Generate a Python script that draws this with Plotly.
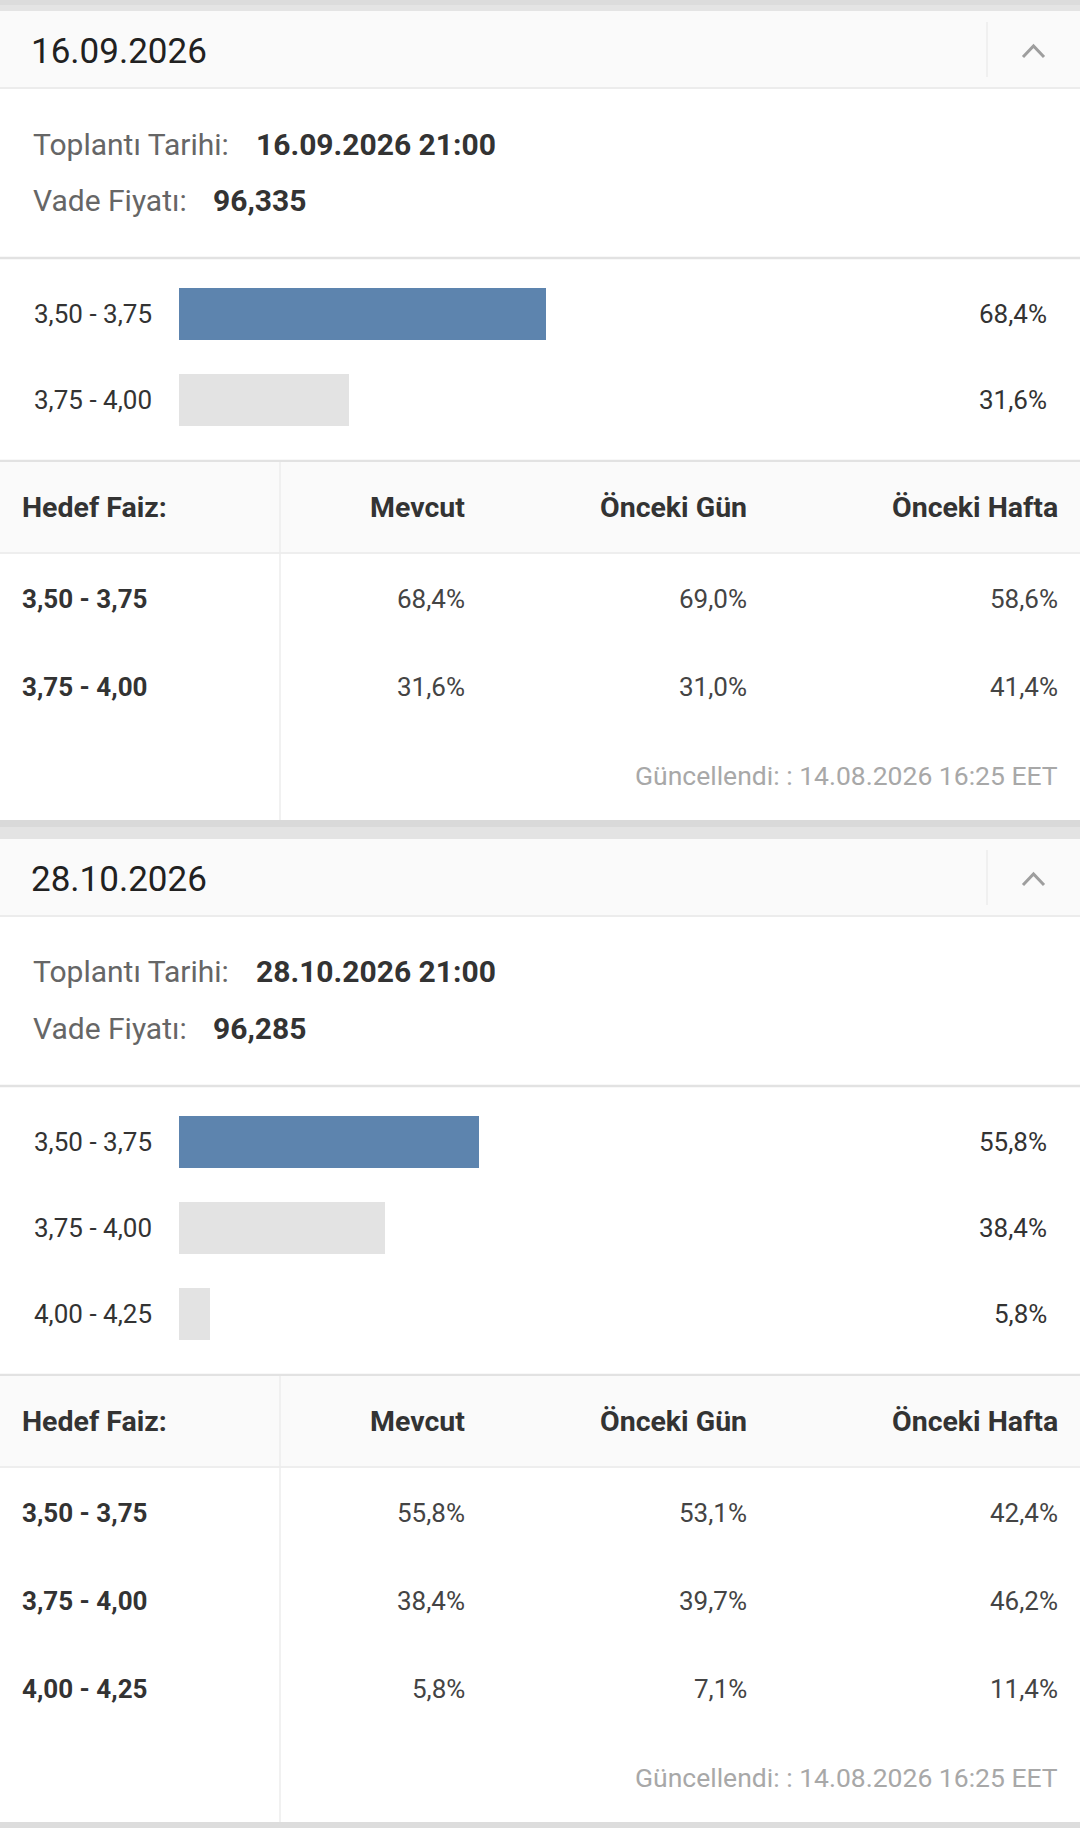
import plotly.graph_objects as go

# --- Data ---
meeting_dates = ["16.09.2026", "28.10.2026"]
meeting_times = ["16.09.2026 21:00", "28.10.2026 21:00"]
futures_prices = ["96,335", "96,285"]

ranges_1 = ["3,50 - 3,75", "3,75 - 4,00"]
current_1 = [68.4, 31.6]
prev_day_1 = [69.0, 31.0]
prev_week_1 = [58.6, 41.4]

ranges_2 = ["3,50 - 3,75", "3,75 - 4,00", "4,00 - 4,25"]
current_2 = [55.8, 38.4, 5.8]
prev_day_2 = [53.1, 39.7, 7.1]
prev_week_2 = [42.4, 46.2, 11.4]

table_columns = ["Hedef Faiz:", "Mevcut", "Önceki Gün", "Önceki Hafta"]
updated_text = "Güncellendi: : 14.08.2026 16:25 EET"

# --- Page geometry (pixels) ---
W, H = 1080, 1828
FONT = "Roboto"
BLUE = "#5d84ae"
GREY_BAR = "#e3e3e3"
LINE = "#e2e2e2"
BAR_X0, BAR_FULL = 179, 537
ROW_STEP = 86
TABLE_STEP = 88


def px(x):
    return x / W


def py(y):
    return 1 - y / H


def pct(v):
    return f"{v:.1f}%".replace(".", ",")


fig = go.Figure()
shapes = []
annotations = []


def rect(x0, y0, x1, y1, color):
    shapes.append(dict(type="rect", xref="paper", yref="paper", layer="below",
                       x0=px(x0), x1=px(x1), y0=py(y1), y1=py(y0),
                       fillcolor=color, line=dict(width=0)))


def hline(y, color=LINE, width=2):
    shapes.append(dict(type="line", xref="paper", yref="paper", layer="below",
                       x0=0, x1=1, y0=py(y), y1=py(y),
                       line=dict(color=color, width=width)))


def vline(x, y0, y1, color="#ececec", width=1.5):
    shapes.append(dict(type="line", xref="paper", yref="paper", layer="below",
                       x0=px(x), x1=px(x), y0=py(y0), y1=py(y1),
                       line=dict(color=color, width=width)))


def text(x, y, s, size, color, bold=False, anchor="left"):
    annotations.append(dict(xref="paper", yref="paper", x=px(x), y=py(y),
                            text=f"<b>{s}</b>" if bold else s, showarrow=False,
                            xanchor=anchor, yanchor="middle",
                            borderpad=0, borderwidth=0,
                            font=dict(family=FONT, size=size, color=color)))


def section(idx, top, ranges, current, prev_day, prev_week):
    n = len(ranges)
    # header strip
    rect(0, top, W, top + 77, "#fafafa")
    hline(top + 77, "#ececec", 2)
    vline(987, top + 11, top + 66)
    text(31, top + 40.5, meeting_dates[idx], 35, "#212121")
    chev_y = top + 40
    shapes.append(dict(type="path", xref="paper", yref="paper",
                       path=f"M {px(1023)},{py(chev_y + 6)} L {px(1033.5)},{py(chev_y - 5)} "
                            f"L {px(1044)},{py(chev_y + 6)}",
                       line=dict(color="#9e9e9e", width=3)))

    # meeting info
    text(33, top + 133, "Toplantı Tarihi:", 30, "#666666")
    text(256, top + 133, meeting_times[idx], 30, "#333333", bold=True)
    text(33, top + 189, "Vade Fiyatı:", 30, "#666666")
    text(213, top + 189, futures_prices[idx], 30, "#333333", bold=True)
    line1 = top + 247
    hline(line1, LINE, 2.5)

    # bar chart
    first = line1 + 56
    d_top = first - ROW_STEP / 2
    d_bot = first + (n - 1) * ROW_STEP + ROW_STEP / 2
    ax = "" if idx == 0 else str(idx + 1)
    top_val = max(current)
    colors = [BLUE if v == top_val else GREY_BAR for v in current]
    fig.add_trace(go.Bar(x=current, y=ranges, orientation="h", width=0.605,
                         marker=dict(color=colors, line=dict(width=0)),
                         xaxis="x" + ax, yaxis="y" + ax, hoverinfo="skip",
                         showlegend=False))
    fig.update_layout(**{
        "xaxis" + ax: dict(domain=[px(BAR_X0), px(BAR_X0 + BAR_FULL)], range=[0, 100],
                           visible=False, fixedrange=True, anchor="y" + ax),
        "yaxis" + ax: dict(domain=[py(d_bot), py(d_top)], type="category",
                           categoryorder="array", categoryarray=ranges,
                           range=[n - 0.5, -0.5], visible=False, fixedrange=True,
                           anchor="x" + ax),
    })
    for r, v in zip(ranges, current):
        annotations.append(dict(xref="paper", yref="y" + ax, x=px(33.5), y=r, text=r,
                                showarrow=False, xanchor="left", yanchor="middle",
                                borderpad=0, borderwidth=0,
                                font=dict(family=FONT, size=26, color="#333333")))
        annotations.append(dict(xref="paper", yref="y" + ax, x=px(1047), y=r, text=pct(v),
                                showarrow=False, xanchor="right", yanchor="middle",
                                borderpad=0, borderwidth=0,
                                font=dict(family=FONT, size=26, color="#333333")))
    line2 = line1 + 203 + (n - 2) * ROW_STEP
    hline(line2, LINE, 2.5)

    # table
    rect(0, line2 + 1, W, line2 + 92, "#fafafa")
    hline(line2 + 92, "#eeeeee", 2)
    col_x = [21.5, 465, 747, 1058]
    header_y = line2 + 46
    for i, c in enumerate(table_columns):
        text(col_x[i], header_y, c, 28.5, "#333333", bold=True,
             anchor="left" if i == 0 else "right")
    row_y = line2 + 138
    for k in range(n):
        y = row_y + k * TABLE_STEP
        text(col_x[0], y, ranges[k], 26, "#333333", bold=True)
        for i, vals in enumerate([current, prev_day, prev_week]):
            text(col_x[i + 1], y, pct(vals[k]), 26, "#444444", anchor="right")
    footer_y = row_y + n * TABLE_STEP
    text(1058, footer_y, updated_text, 26.5, "#a8a8a8", anchor="right")
    bottom = footer_y + 45
    vline(280, line2 + 1, bottom, "#ededed", 1.5)
    return bottom


# top shadow band
rect(0, 0, W, 11, "#e4e4e4")
rect(0, 0, W, 5, "#dcdcdc")

end1 = section(0, 11, ranges_1, current_1, prev_day_1, prev_week_1)
rect(0, end1, W, end1 + 19, "#e3e3e3")
rect(0, end1, W, end1 + 7, "#d9d9d9")
end2 = section(1, end1 + 19, ranges_2, current_2, prev_day_2, prev_week_2)
rect(0, end2, W, H, "#dddddd")

fig.update_layout(
    width=W, height=H,
    margin=dict(l=0, r=0, t=0, b=0),
    paper_bgcolor="white", plot_bgcolor="rgba(0,0,0,0)",
    shapes=shapes, annotations=annotations,
    bargap=0, showlegend=False,
)

fig.write_html("out.html", config={"displayModeBar": False},
               post_script="document.body.style.margin='0';")
